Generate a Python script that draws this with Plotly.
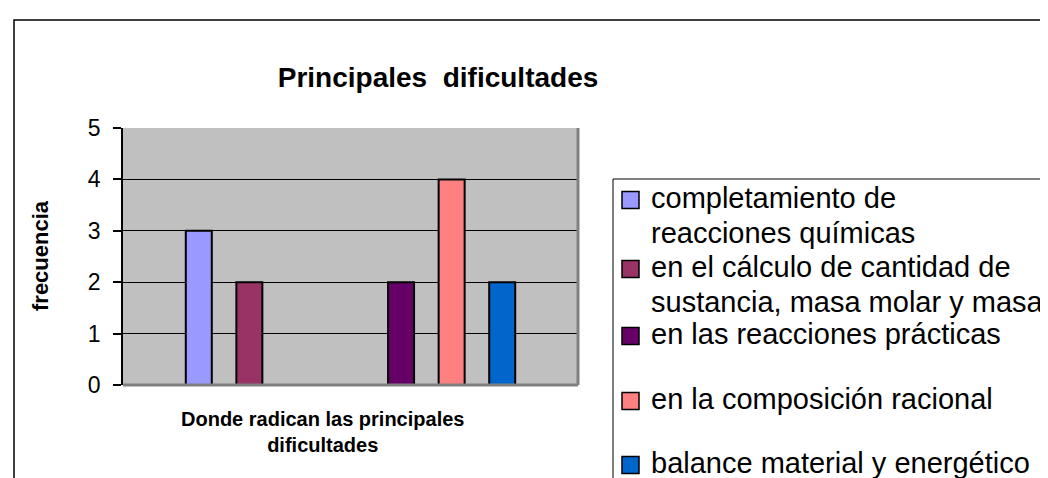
import plotly.graph_objects as go

category = ["Donde radican las principales dificultades"]
series_names = [
    "completamiento de reacciones químicas",
    "en el cálculo de cantidad de sustancia, masa molar y masa",
    "",
    "",
    "en las reacciones prácticas",
    "en la composición racional",
    "balance material y energético",
]
legend_lines = [
    ["completamiento de", "reacciones químicas"],
    ["en el cálculo de cantidad de", "sustancia, masa molar y masa"],
    None,
    None,
    ["en las reacciones prácticas"],
    ["en la composición racional"],
    ["balance material y energético"],
]
series_values = [3, 2, 0, 0, 2, 4, 2]
series_colors = ["#9999FF", "#993366", "#C0C0C0", "#C0C0C0", "#660066", "#FF8080", "#0066CC"]
y_ticks = [0, 1, 2, 3, 4, 5]

FONT = "Liberation Sans, Arial, sans-serif"

fig = go.Figure()
for name, val, col, lines in zip(series_names, series_values, series_colors, legend_lines):
    fig.add_trace(go.Bar(
        x=category, y=[val], name=name, showlegend=False,
        marker=dict(color=col, line=dict(color="black", width=2 if lines else 0)),
        hoverinfo="skip",
    ))

L, R, T, B = 115, 570, 120, 377
W, H = 1048, 478
def px(x):
    return (x - L) / (R - L)
def py(y):
    return (B - y) / (B - T)

fig.update_layout(
    width=W, height=H,
    margin=dict(l=L, r=W - R, t=T, b=H - B),
    paper_bgcolor="white", plot_bgcolor="#C0C0C0",
    barmode="group", bargap=0.222, bargroupgap=0.486,
    font=dict(family=FONT, color="black"),
    title=dict(text="<b>Principales  dificultades</b>", x=px(430), xref="paper", xanchor="center",
               y=1 - 69 / H, yref="container", yanchor="middle", font=dict(size=28, family=FONT)),
    showlegend=False,
)
fig.update_xaxes(showticklabels=False, showgrid=False, zeroline=False, showline=False, ticks="")
fig.update_yaxes(range=[0, 5], tickvals=y_ticks, showgrid=True, gridcolor="black", gridwidth=1,
                 zeroline=False, showline=True, linecolor="black", linewidth=1.5,
                 ticks="outside", ticklen=8, tickcolor="black", tickwidth=1.5,
                 ticklabelstandoff=8,
                 tickfont=dict(size=23, family=FONT, color="black"))

# shadow on right and bottom of plot area
fig.add_shape(type="line", xref="paper", yref="paper", x0=1, x1=1, y0=0, y1=1,
              line=dict(color="#808080", width=3), layer="above")
fig.add_shape(type="line", xref="paper", yref="paper", x0=0, x1=1, y0=0, y1=0,
              line=dict(color="#808080", width=3), layer="above")
# outer chart border
fig.add_shape(type="rect", xref="paper", yref="paper", x0=px(6), x1=px(1100), y0=py(12), y1=py(520),
              line=dict(color="black", width=1.5), layer="below")

# axis titles
fig.add_annotation(text="<b>frecuencia</b>", xref="paper", yref="paper", x=px(32), y=py(248),
                   xanchor="center", yanchor="middle",
                   textangle=-90, showarrow=False, font=dict(size=22, family=FONT))
fig.add_annotation(text="<b>Donde radican las principales<br>dificultades</b>", xref="paper", yref="paper",
                   x=px(314), y=py(424), xanchor="center", yanchor="middle",
                   showarrow=False, font=dict(size=20, family=FONT))

# legend box (extends beyond the visible page, as in the original)
fig.add_shape(type="rect", xref="paper", yref="paper", x0=px(605), x1=px(1200), y0=py(171), y1=py(600),
              line=dict(color="black", width=1), fillcolor="white", layer="below")
LEG_SIZE = 29
entry_pos = [[192, 227], [261, 296], [328], [393], [457]]
k = 0
for lines, col in zip(legend_lines, series_colors):
    if not lines:
        continue
    ys = entry_pos[k]
    yc = ys[0]
    fig.add_shape(type="rect", xref="paper", yref="paper",
                  x0=px(614), x1=px(631), y0=py(yc - 8.5), y1=py(yc + 8.5),
                  line=dict(color="black", width=1.5), fillcolor=col, layer="above")
    for t, yl in zip(lines, ys):
        fig.add_annotation(text=t, xref="paper", yref="paper", x=px(641), y=py(yl - 2.5),
                           xanchor="left", yanchor="middle", showarrow=False,
                           font=dict(size=LEG_SIZE, family=FONT, color="black"))
    k += 1

fig.write_html("out.html")
